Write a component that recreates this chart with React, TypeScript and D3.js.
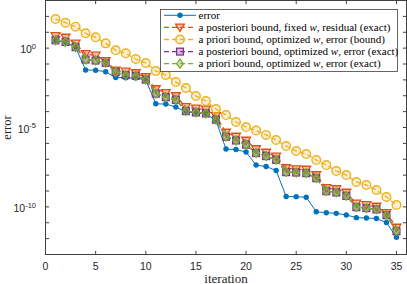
import React from "react";
import * as d3 from "d3";

const iterations = d3.range(1, 36);

const errorVals = [3.0, 2.4, 1.12, 0.0417, 0.0405, 0.0326, 0.0141, 0.0137, 0.0131, 9.8e-3,
  3.1e-4, 3.0e-4, 1.95e-4, 9.7e-5, 8.2e-5, 7.3e-5, 2.75e-5, 4.4e-7, 4.1e-7, 2.85e-7,
  4.3e-8, 3.5e-8, 1.95e-8, 4.5e-10, 4.4e-10, 4.0e-10, 4.9e-11, 4.3e-11, 3.9e-11, 3.1e-11,
  2.1e-11, 2.0e-11, 1.85e-11, 1.03e-11, 1.2e-12];

const postFixedVals = [5.8, 4.65, 1.95, 0.425, 0.342, 0.154, 0.0388, 0.0336, 0.027, 0.0151,
  2.65e-3, 1.49e-3, 9.6e-4, 1.95e-4, 1.57e-4, 1.36e-4, 5.3e-5, 4.8e-6, 2.7e-6, 1.51e-6,
  4.4e-7, 2.65e-7, 1.49e-7, 2.8e-8, 2.4e-8, 2.25e-8, 1.01e-8, 1.54e-9, 1.33e-9, 8.0e-10,
  1.63e-10, 1.31e-10, 1.05e-10, 4.1e-11, 5.0e-12];

const prioriBoundVals = [68, 39.8, 22.3, 8.6, 4.8, 2.0, 0.73, 0.47, 0.206, 0.115,
  0.036, 0.0202, 7.3e-3, 3.07e-3, 9.6e-4, 4.65e-4, 1.46e-4, 6.1e-5, 2.2e-5, 1.07e-5,
  6.4e-6, 3.4e-6, 1.63e-6, 6.8e-7, 3.3e-7, 2.13e-7, 8.9e-8, 4.3e-8, 1.81e-8, 1.01e-8,
  3.7e-9, 2.38e-9, 1.15e-9, 4.2e-10, 1.31e-10];

const postOptVals = [3.1, 2.45, 1.15, 0.19, 0.165, 0.118, 0.0305, 0.0198, 0.018, 0.0103,
  1.35e-3, 8.1e-4, 5.5e-4, 1.07e-4, 8.8e-5, 7.7e-5, 3.05e-5, 2.6e-6, 1.52e-6, 8.3e-7,
  2.45e-7, 1.57e-7, 9.1e-8, 1.53e-8, 1.45e-8, 1.33e-8, 6.4e-9, 9.7e-10, 8.1e-10, 4.9e-10,
  9.5e-11, 8.3e-11, 6.9e-11, 3.0e-11, 2.9e-12];

const prioriOptVals = [3.2, 2.5, 1.17, 0.197, 0.17, 0.12, 0.0312, 0.0202, 0.0183, 0.0105,
  1.38e-3, 8.3e-4, 5.6e-4, 1.09e-4, 9.0e-5, 7.8e-5, 3.1e-5, 2.7e-6, 1.56e-6, 8.5e-7,
  2.5e-7, 1.6e-7, 9.3e-8, 1.57e-8, 1.48e-8, 1.36e-8, 6.6e-9, 1.0e-9, 8.3e-10, 5.0e-10,
  9.8e-11, 8.5e-11, 7.1e-11, 3.1e-11, 3.1e-12];

const seriesLabels = [
  ["error"],
  ["a posteriori bound, fixed ", "w", ", residual (exact)"],
  ["a priori bound, optimized ", "w", ", error (bound)"],
  ["a posteriori bound, optimized ", "w", ", error (exact)"],
  ["a priori bound, optimized ", "w", ", error (exact)"],
];

const xTicks = [0, 5, 10, 15, 20, 25, 30, 35];
const yLabelExps = [0, -5, -10];
const yDecades = d3.range(-13, 4);

const W = 407, H = 284;
const L = 45.5, R = 406.5, T = 0.5, B = 254.5;

const SERIF = "'Liberation Serif', 'Times New Roman', Times, serif";
const SANS = "'Liberation Sans', Arial, Helvetica, sans-serif";

type Series = { vals: number[]; color: string; fill: string; marker: string; dash: string; width: number };

const series: Series[] = [
  { vals: errorVals, color: "#0072BD", fill: "#0072BD", marker: "dot", dash: "", width: 1 },
  { vals: postFixedVals, color: "#D95319", fill: "rgba(217,83,25,0.35)", marker: "tri", dash: "5 3", width: 1.3 },
  { vals: prioriBoundVals, color: "#EDB120", fill: "rgba(237,177,32,0.2)", marker: "circle", dash: "5 3", width: 1.3 },
  { vals: postOptVals, color: "#7E2F8E", fill: "rgba(126,47,142,0.3)", marker: "square", dash: "5 3", width: 1.3 },
  { vals: prioriOptVals, color: "#77AC30", fill: "rgba(119,172,48,0.3)", marker: "diamond", dash: "5 3", width: 1.3 },
];

function Marker({ kind, x, y, color, fill }: { kind: string; x: number; y: number; color: string; fill: string }) {
  if (kind === "dot") return <circle cx={x} cy={y} r={2.7} fill={color} />;
  if (kind === "circle") return <circle cx={x} cy={y} r={4.3} fill={fill} stroke={color} strokeWidth={1.4} />;
  if (kind === "tri") {
    const s = 4.4;
    return <path d={`M${x - s},${y - s * 0.75}L${x + s},${y - s * 0.75}L${x},${y + s * 0.95}Z`} fill={fill} stroke={color} strokeWidth={1.3} />;
  }
  if (kind === "square") return <rect x={x - 3.4} y={y - 3.4} width={6.8} height={6.8} fill={fill} stroke={color} strokeWidth={1.3} />;
  const s = 4.5;
  return <path d={`M${x},${y - s}L${x + s * 0.75},${y}L${x},${y + s}L${x - s * 0.75},${y}Z`} fill={fill} stroke={color} strokeWidth={1.3} />;
}

export default function App() {
  const x = d3.scaleLinear().domain([0, 36]).range([L, R]);
  const y = d3.scaleLog().domain([1e-13, 1e3]).range([B, T]);
  const line = d3.line<number>().x((_, i) => x(iterations[i])).y((v) => y(v));
  const axisColor = "#404040";
  const tl = 3.6;
  const rowY = (k: number) => 15.3 + k * 12.1;

  return (
    <svg width={W} height={H} style={{ position: "fixed", left: 0, top: 0, background: "#fff" }}>
      <rect x={0} y={0} width={W} height={H} fill="#fff" />
      {series.map((s, si) => (
        <g key={si}>
          <path d={line(s.vals) || ""} fill="none" stroke={s.color} strokeWidth={s.width} strokeDasharray={s.dash || undefined} />
          {s.vals.map((v, i) => (
            <Marker key={i} kind={s.marker} x={x(iterations[i])} y={y(v)} color={s.color} fill={s.fill} />
          ))}
        </g>
      ))}
      <rect x={L} y={T} width={R - L} height={B - T} fill="none" stroke={axisColor} strokeWidth={1} />
      {xTicks.map((t) => (
        <g key={t}>
          <line x1={x(t)} x2={x(t)} y1={B} y2={B - tl} stroke={axisColor} />
          <line x1={x(t)} x2={x(t)} y1={T} y2={T + tl} stroke={axisColor} />
          <text x={x(t)} y={269.5} textAnchor="middle" fontFamily={SANS} fontSize={10.5} fill="#262626">{t}</text>
        </g>
      ))}
      {yDecades.map((e) => (
        <g key={e}>
          <line x1={L} x2={L + tl} y1={y(Math.pow(10, e))} y2={y(Math.pow(10, e))} stroke={axisColor} />
          <line x1={R} x2={R - tl} y1={y(Math.pow(10, e))} y2={y(Math.pow(10, e))} stroke={axisColor} />
        </g>
      ))}
      {yLabelExps.map((e) => (
        <text key={e} x={36} y={y(Math.pow(10, e)) + 5} textAnchor="end" fontFamily={SANS} fontSize={10.5} fill="#262626">
          10<tspan dy={-4.2} fontSize={7.5}>{e}</tspan>
        </text>
      ))}
      <text x={x(18)} y={282.5} textAnchor="middle" fontFamily={SERIF} fontSize={13} fill="#262626">iteration</text>
      <text transform={`translate(10.5,${(T + B) / 2}) rotate(-90)`} textAnchor="middle" fontFamily={SERIF} fontSize={12.5} fill="#262626">error</text>
      <rect x={160.5} y={9.5} width={237} height={62} fill="#fff" stroke="#404040" strokeWidth={0.8} />
      {series.map((s, k) => (
        <g key={k}>
          <line x1={164} x2={196} y1={rowY(k)} y2={rowY(k)} stroke={s.color} strokeWidth={s.width} strokeDasharray={s.dash || undefined} />
          <Marker kind={s.marker} x={180} y={rowY(k)} color={s.color} fill={s.fill} />
          <text x={198.5} y={rowY(k) + 3.6} fontFamily={SERIF} fontSize={11} fill="#000">
            {seriesLabels[k].map((p, j) => (
              <tspan key={j} fontStyle={j === 1 ? "italic" : "normal"}>{p}</tspan>
            ))}
          </text>
        </g>
      ))}
    </svg>
  );
}
